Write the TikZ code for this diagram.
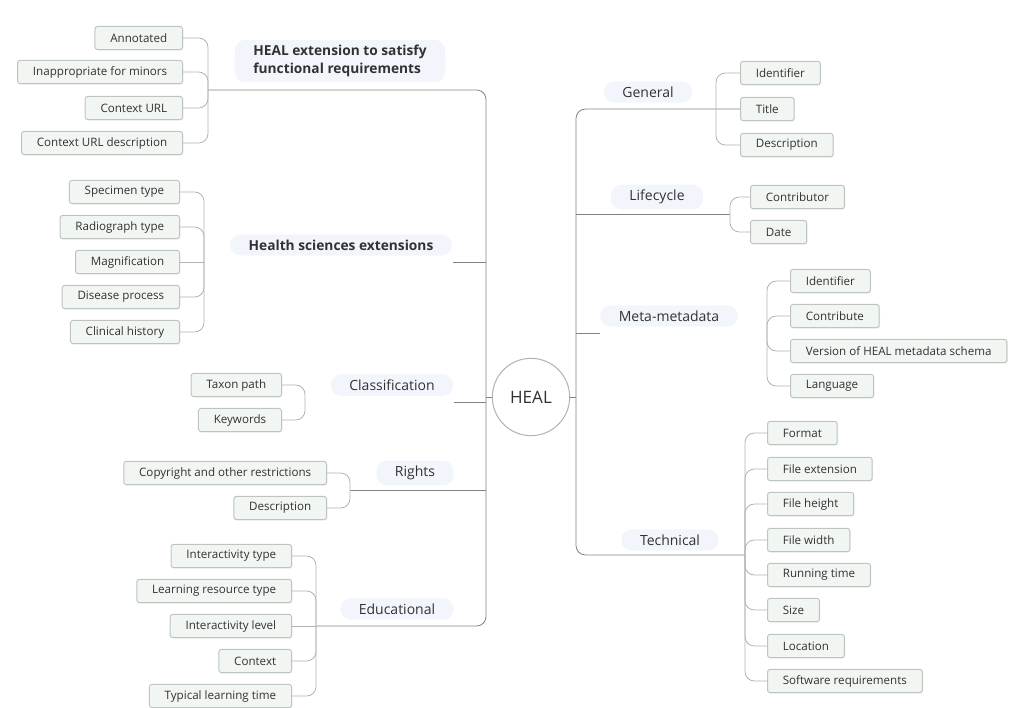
\documentclass[tikz,border=0pt]{standalone}
\usepackage{fontspec}
\setmainfont{Open Sans}
\usetikzlibrary{shadows}

\definecolor{leaffill}{RGB}{241,246,243}
\definecolor{leafline}{RGB}{190,197,193}
\definecolor{inkgrey}{RGB}{50,50,50}
\definecolor{trunkgrey}{RGB}{130,130,130}
\definecolor{twiggrey}{RGB}{178,178,178}
\definecolor{glowblue}{RGB}{242,246,252}

\tikzset{every picture/.style={line width=0.75pt}}
\tikzset{
  leaf/.style={draw=leafline, fill=leaffill, rounded corners=2pt, inner xsep=11.5pt, inner ysep=0pt,
    minimum height=17.5pt, text=inkgrey, font=\fontsize{8.7}{10}\selectfont,
    drop shadow={opacity=0.12, shadow xshift=0.7pt, shadow yshift=-0.7pt}},
  branch/.style={fill=glowblue, rounded corners=8pt, inner xsep=14pt, inner ysep=4pt,
    text=inkgrey, font=\fontsize{10.5}{12}\selectfont},
  boldbranch/.style={branch, align=left, font=\fontsize{10.3}{13.5}\selectfont\bfseries},
  hub/.style={circle, draw=twiggrey, fill=white, minimum size=58pt, inner sep=0pt,
    text=inkgrey, font=\fontsize{12.8}{14}\selectfont},
  trunk/.style={draw=trunkgrey, line width=0.6pt, rounded corners=7pt},
  twig/.style={draw=twiggrey, line width=0.6pt, rounded corners=7pt},
}

\begin{document}
\begin{tikzpicture}[x=0.75pt,y=0.75pt,yscale=-1,xscale=1]
\path[use as bounding box] (0,0) rectangle (1016,707);

% Central topic
\node[hub] (heal) at (531,397) {HEAL};

% Main topics, left
\node[boldbranch] (ext) at (340,61) {HEAL extension to satisfy\\functional requirements};
\node[boldbranch] (hse) at (341,245) {Health sciences extensions};
\node[branch] (cls) at (392,385) {Classification};
\node[branch] (rig) at (415,473) {Rights};
\node[branch] (edu) at (397,609) {Educational};

% Main topics, right
\node[branch] (gen) at (648,92) {General};
\node[branch] (lif) at (657,197) {Lifecycle};
\node[branch] (meta) at (669,316) {Meta-metadata};
\node[branch] (tec) at (670,540) {Technical};

% Subtopics: HEAL extension
\node[leaf, anchor=east] (ext1) at (183,38) {Annotated};
\node[leaf, anchor=east] (ext2) at (183,72) {Inappropriate for minors};
\node[leaf, anchor=east] (ext3) at (183,108) {Context URL};
\node[leaf, anchor=east] (ext4) at (183,143) {Context URL description};

% Subtopics: Health sciences extensions
\node[leaf, anchor=east] (hse1) at (180,192) {Specimen type};
\node[leaf, anchor=east] (hse2) at (180,227) {Radiograph type};
\node[leaf, anchor=east] (hse3) at (180,262) {Magnification};
\node[leaf, anchor=east] (hse4) at (180,297) {Disease process};
\node[leaf, anchor=east] (hse5) at (180,332) {Clinical history};

% Subtopics: Classification
\node[leaf, anchor=east] (cls1) at (282,385) {Taxon path};
\node[leaf, anchor=east] (cls2) at (282,420) {Keywords};

% Subtopics: Rights
\node[leaf, anchor=east] (rig1) at (327,473) {Copyright and other restrictions};
\node[leaf, anchor=east] (rig2) at (327,508) {Description};

% Subtopics: Educational
\node[leaf, anchor=east] (edu1) at (292,556) {Interactivity type};
\node[leaf, anchor=east] (edu2) at (292,591) {Learning resource type};
\node[leaf, anchor=east] (edu3) at (292,626) {Interactivity level};
\node[leaf, anchor=east] (edu4) at (292,661) {Context};
\node[leaf, anchor=east] (edu5) at (292,696) {Typical learning time};

% Subtopics: General
\node[leaf, anchor=west] (gen1) at (740,73) {Identifier};
\node[leaf, anchor=west] (gen2) at (740,109) {Title};
\node[leaf, anchor=west] (gen3) at (740,145) {Description};

% Subtopics: Lifecycle
\node[leaf, anchor=west] (lif1) at (750,197) {Contributor};
\node[leaf, anchor=west] (lif2) at (750,232) {Date};

% Subtopics: Meta-metadata
\node[leaf, anchor=west] (meta1) at (790,281) {Identifier};
\node[leaf, anchor=west] (meta2) at (790,316) {Contribute};
\node[leaf, anchor=west] (meta3) at (790,351) {Version of HEAL metadata schema};
\node[leaf, anchor=west] (meta4) at (790,386) {Language};

% Subtopics: Technical
\node[leaf, anchor=west] (tec1) at (767,433) {Format};
\node[leaf, anchor=west] (tec2) at (767,469) {File extension};
\node[leaf, anchor=west] (tec3) at (767,504) {File height};
\node[leaf, anchor=west] (tec4) at (767,540) {File width};
\node[leaf, anchor=west] (tec5) at (767,575) {Running time};
\node[leaf, anchor=west] (tec6) at (767,610) {Size};
\node[leaf, anchor=west] (tec7) at (767,646) {Location};
\node[leaf, anchor=west] (tec8) at (767,681) {Software requirements};

% Junctions
\coordinate (jext) at (208,90);
\coordinate (jhse) at (204,262);
\coordinate (jcls) at (305,402);
\coordinate (jrig) at (350,490);
\coordinate (jedu) at (316,626);
\coordinate (jgen) at (716,109);
\coordinate (jlif) at (730,214);
\coordinate (jmeta) at (767,333);
\coordinate (jtec) at (745,555);
\coordinate (ltop) at (486,90);
\coordinate (rtop) at (576,109);

% Left trunk
\draw[trunk] (jext) -- (ltop) -- (ltop |- jedu) -- (jedu);
\draw[trunk] (heal.west) -- (heal.west -| ltop);
\draw[trunk] (jhse -| ltop) -- (jhse -| hse.east);
\draw[trunk] (jcls -| ltop) -- (jcls -| cls.east);
\draw[trunk] (jrig -| ltop) -- (jrig);

% Right trunk
\draw[trunk] (gen2.west) -- (rtop) -- (rtop |- jtec) -- (jtec);
\draw[trunk] (heal.east) -- (heal.east -| rtop);
\draw[trunk] (jlif -| rtop) -- (jlif);
\draw[trunk] (jmeta -| rtop) -- (jmeta -| meta.west);

% Brackets, left
\draw[twig] (jext) |- (ext1.east);
\draw[twig] (jext) |- (ext2.east);
\draw[twig] (jext) |- (ext3.east);
\draw[twig] (jext) |- (ext4.east);
\draw[twig] (jhse) |- (hse1.east);
\draw[twig] (jhse) |- (hse2.east);
\draw[twig] (jhse) -- (hse3.east);
\draw[twig] (jhse) |- (hse4.east);
\draw[twig] (jhse) |- (hse5.east);
\draw[twig] (jcls) |- (cls1.east);
\draw[twig] (jcls) |- (cls2.east);
\draw[twig] (jrig) |- (rig1.east);
\draw[twig] (jrig) |- (rig2.east);
\draw[twig] (jedu) |- (edu1.east);
\draw[twig] (jedu) |- (edu2.east);
\draw[twig] (jedu) -- (edu3.east);
\draw[twig] (jedu) |- (edu4.east);
\draw[twig] (jedu) |- (edu5.east);

% Brackets, right
\draw[twig] (jgen) |- (gen1.west);
\draw[twig] (jgen) |- (gen3.west);
\draw[twig] (jlif) |- (lif1.west);
\draw[twig] (jlif) |- (lif2.west);
\draw[twig] (jmeta) |- (meta1.west);
\draw[twig] (jmeta) |- (meta2.west);
\draw[twig] (jmeta) |- (meta3.west);
\draw[twig] (jmeta) |- (meta4.west);
\draw[twig] (jtec) |- (tec1.west);
\draw[twig] (jtec) |- (tec2.west);
\draw[twig] (jtec) |- (tec3.west);
\draw[twig] (jtec) |- (tec4.west);
\draw[twig] (jtec) |- (tec5.west);
\draw[twig] (jtec) |- (tec6.west);
\draw[twig] (jtec) |- (tec7.west);
\draw[twig] (jtec) |- (tec8.west);

\end{tikzpicture}
\end{document}
